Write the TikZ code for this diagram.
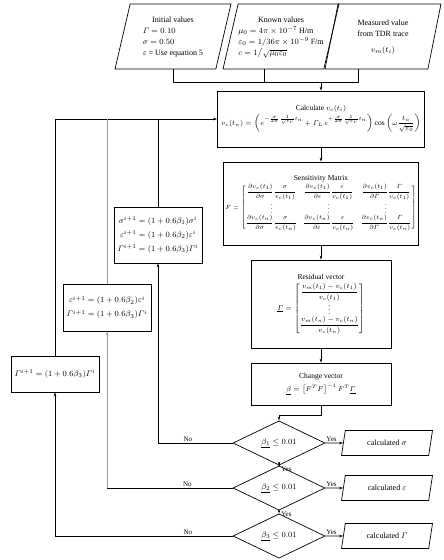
\documentclass[tikz,border=0pt]{standalone}
\usepackage{amsmath}
\usepackage{fontspec}
\setmainfont{Liberation Serif}
\usetikzlibrary{shapes.geometric,arrows.meta}
\definecolor{loopgray}{gray}{0.6}
\tikzset{
  procbox/.style={rectangle,draw,line width=0.7pt,inner sep=2pt,align=center,font=\fontsize{7.5}{9}\selectfont},
  inbox/.style={trapezium,trapezium left angle=71,trapezium right angle=109,trapezium stretches body,
    draw,line width=0.7pt,minimum width=116pt,minimum height=65pt,inner sep=0pt,font=\fontsize{8}{11}\selectfont},
  outbox/.style={trapezium,trapezium left angle=56,trapezium right angle=124,trapezium stretches body,
    draw,line width=0.7pt,minimum width=91pt,minimum height=25pt,inner sep=0pt,font=\fontsize{8}{9}\selectfont},
  decide/.style={diamond,draw,line width=0.7pt,minimum width=92pt,minimum height=35pt,inner sep=0pt,font=\fontsize{8}{9}\selectfont},
  updbox/.style={procbox,minimum width=88pt,font=\fontsize{8.5}{14}\selectfont},
  lbl/.style={font=\fontsize{7}{8}\selectfont,inner sep=1pt},
}
\begin{document}
\begin{tikzpicture}[x=1pt,y=-1pt,>={Stealth[length=4pt,width=2.6pt]},line width=0.7pt]
    \useasboundingbox (0,0) rectangle (444,560);
    % input data
    \node[inbox] (init) at (173,36.5) {\begin{tabular}{@{}l@{}}\multicolumn{1}{c}{Initial values}\\ $\varGamma = 0.10$\\ $\sigma = 0.50$\\ $\varepsilon$ = Use equation 5\end{tabular}};
    \node[inbox] (known) at (281,36.5) {\begin{tabular}{@{}l@{}}\multicolumn{1}{c}{Known values}\\ $\mu_0 = 4\pi\times10^{-7}$ H/m\\ $\varepsilon_0 = 1/36\pi\times10^{-9}$ F/m\\ $c = 1\big/\sqrt{\mu_0\varepsilon_0}$\end{tabular}};
    \node[inbox] (meas) at (383,36.5) {\begin{tabular}{@{}c@{}}Measured value\\ from TDR trace\\[5pt] $v_m(t_i)$\end{tabular}};
    \coordinate (join) at (321,82);
    % main column
    \node[procbox,minimum width=207pt,minimum height=56pt] (calc) at (321,119) {Calculate $v_c(t_i)$\\[1pt]
      $v_c(t_n)=\left(e^{-\frac{\sigma}{2\pi}\frac{1}{\sqrt{\varepsilon_r}}t_n}+\varGamma_L\,e^{+\frac{\sigma}{2\pi}\frac{1}{\sqrt{\varepsilon_r}}t_n}\vphantom{\dfrac{t_n}{\sqrt{\varepsilon_0}}}\right)\cos\left(\omega\dfrac{t_n}{\sqrt{\varepsilon_0}}\right)$};
    \node[procbox,minimum width=180pt,minimum height=83pt] (sens) at (321,203.5) {Sensitivity Matrix\\[1pt]
      {\fontsize{6.5}{8}\selectfont\setlength{\arraycolsep}{3pt}$F=\begin{bmatrix}
        \dfrac{\partial v_c(t_1)}{\partial\sigma}\dfrac{\sigma}{v_c(t_1)} & \dfrac{\partial v_c(t_1)}{\partial\varepsilon}\dfrac{\varepsilon}{v_c(t_1)} & \dfrac{\partial v_c(t_1)}{\partial\varGamma}\dfrac{\varGamma}{v_c(t_1)}\\[-1pt]
        \vdots & \vdots & \vdots\\[-1pt]
        \dfrac{\partial v_c(t_n)}{\partial\sigma}\dfrac{\sigma}{v_c(t_n)} & \dfrac{\partial v_c(t_n)}{\partial\varepsilon}\dfrac{\varepsilon}{v_c(t_n)} & \dfrac{\partial v_c(t_n)}{\partial\varGamma}\dfrac{\varGamma}{v_c(t_n)}
      \end{bmatrix}$}};
    \node[procbox,minimum width=140pt,minimum height=88pt] (resid) at (321,304) {Residual vector\\[3pt]
      $\underline{\varGamma}=\begin{bmatrix}
        \dfrac{v_m(t_1)-v_c(t_1)}{v_c(t_1)}\\[-1pt]
        \vdots\\[-1pt]
        \dfrac{v_m(t_n)-v_c(t_n)}{v_c(t_n)}
      \end{bmatrix}$};
    \node[procbox,minimum width=140pt,minimum height=42pt] (change) at (321,384) {Change vector\\[4pt]
      $\underline{\beta}=\left[F^TF\right]^{-1}F^T\underline{\varGamma}$};
    % convergence tests
    \node[decide] (d1) at (279,443) {$\underline{\beta_1}\le 0.01$};
    \node[decide] (d2) at (279,488) {$\underline{\beta_2}\le 0.01$};
    \node[decide] (d3) at (279,536) {$\underline{\beta_3}\le 0.01$};
    % results
    \node[outbox] (out1) at (387,443) {calculated $\sigma$};
    \node[outbox] (out2) at (387,488) {calculated $\varepsilon$};
    \node[outbox] (out3) at (387,536) {calculated $\varGamma$};
    % parameter updates
    \node[updbox,minimum height=56pt] (upd1) at (158,235) {$\sigma^{i+1}=(1+0.6\beta_1)\sigma^i$\\ $\varepsilon^{i+1}=(1+0.6\beta_2)\varepsilon^i$\\ $\varGamma^{i+1}=(1+0.6\beta_3)\varGamma^i$};
    \node[updbox,minimum height=47pt] (upd2) at (107,307.5) {$\varepsilon^{i+1}=(1+0.6\beta_2)\varepsilon^i$\\ $\varGamma^{i+1}=(1+0.6\beta_3)\varGamma^i$};
    \node[updbox,minimum height=36pt] (upd3) at (55,374) {$\varGamma^{i+1}=(1+0.6\beta_3)\varGamma^i$};
    % inputs into the calculation
    \draw (init.south) |- (join);
    \draw ([xshift=-17pt]known.south) |- (join);
    \draw ([xshift=-25pt]meas.south) |- (join);
    \draw[->] (join) -- (calc.north);
    % down the main column
    \draw[->] (calc) -- (sens);
    \draw[->] (sens) -- (resid);
    \draw[->] (resid) -- (change);
    \draw[->] (change.south) -- ++(0,10) -| (d1.north);
    \draw[->] (d1) -- node[lbl,anchor=north west,pos=0,xshift=1pt] {Yes} (d2);
    \draw[->] (d2) -- node[lbl,anchor=north west,pos=0,xshift=1pt] {Yes} (d3);
    % converged
    \draw[->] (d1.east) -- node[lbl,above,pos=0.35] {Yes} (out1);
    \draw[->] (d2.east) -- node[lbl,above,pos=0.35] {Yes} (out2);
    \draw[->] (d3.east) -- node[lbl,above,pos=0.35] {Yes} (out3);
    % not converged
    \draw[->] (d1.west) -| node[lbl,above,pos=0.3] {No} (upd1.south);
    \coordinate (k2) at (d2.west -| upd2.south);
    \draw (d2.west) -- node[lbl,above,pos=0.36] {No} (k2);
    \draw[->,loopgray,line width=1pt] (k2) -- (upd2.south);
    \draw[->] (d3.west) -| node[lbl,above,pos=0.126] {No} (upd3.south);
    % back to the calculation
    \draw[->] (upd3.north) |- (calc.west);
    \draw (upd1.north) -- (upd1.north |- calc.west);
    \draw[loopgray,line width=1pt] (upd2.north) -- (upd2.north |- calc.west);
\end{tikzpicture}
\end{document}
